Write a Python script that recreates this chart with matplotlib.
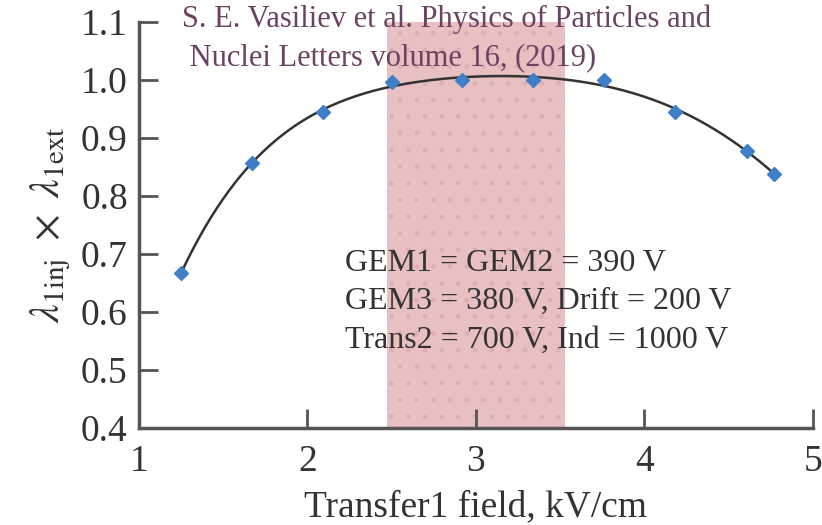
import numpy as np
import matplotlib.pyplot as plt

plt.rcParams['font.family'] = ['Liberation Serif', 'DejaVu Serif']
plt.rcParams['mathtext.fontset'] = 'stix'

# data
field = [1.25, 1.67, 2.09, 2.50, 2.92, 3.34, 3.76, 4.18, 4.61, 4.77]
eff = [0.667, 0.857, 0.945, 0.997, 1.0, 1.0, 1.0, 0.945, 0.878, 0.838]
band = [2.47, 3.53]  # shaded operating range

# fit curve through the points
coef = np.polyfit(field, eff, 5)
xf = np.linspace(field[0], field[-1], 200)
yf = np.polyval(coef, xf)

fig = plt.figure(figsize=(8.22, 5.25), dpi=100)
ax = fig.add_axes([0.169, 0.185, 0.82, 0.773])

ax.fill_between(band, 0.4, 1.1, color='#e8c0c2', hatch='.', edgecolor='#dcb0b3', linewidth=0, zorder=1)
ax.plot(xf, yf, color='#333333', lw=1.8, zorder=2)
ax.plot(field, eff, 'D', color='#3f7fc8', ms=7, zorder=3)

ax.set_xlim(1, 5)
ax.set_ylim(0.4, 1.1)
ax.set_xticks([1, 2, 3, 4, 5])
ax.set_yticks(np.arange(0.4, 1.11, 0.1))
ax.set_yticklabels(['0.4', '0.5', '0.6', '0.7', '0.8', '0.9', '1.0', '1.1'])
for s in ['top', 'right']:
    ax.spines[s].set_visible(False)
for s in ['left', 'bottom']:
    ax.spines[s].set_color('#555555')
    ax.spines[s].set_linewidth(2.5)
ax.tick_params(direction='in', length=14, width=2, color='#555555',
               labelsize=27, labelcolor='#333333')
ax.tick_params(axis='x', pad=12)
ax.tick_params(axis='y', pad=8)

ax.set_xlabel('Transfer1 field, kV/cm', fontsize=27, color='#333333', labelpad=8)
ax.set_ylabel(r'$\lambda_{\mathrm{1inj}}\ \times\ \lambda_{\mathrm{1ext}}$', fontsize=30,
              color='#333333', labelpad=6)

fig.text(345 / 822, 1 - 249 / 525,
         'GEM1 = GEM2 = 390 V\nGEM3 = 380 V, Drift = 200 V\nTrans2 = 700 V, Ind = 1000 V',
         fontsize=23, color='#333333', va='top', ha='left', linespacing=1.42)

fig.text(182 / 822, 1 - 4 / 525,
         'S. E. Vasiliev et al. Physics of Particles and\n Nuclei Letters volume 16, (2019)',
         fontsize=22, color='#6b4262', va='top', ha='left', linespacing=1.45)

fig.savefig('out.png', dpi=100)
